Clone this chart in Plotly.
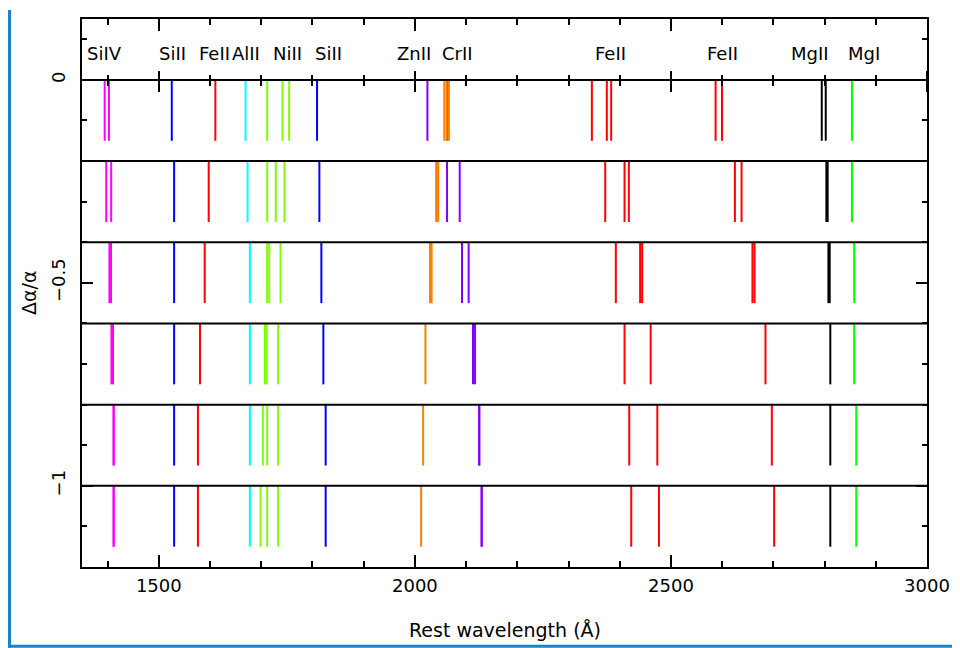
import plotly.graph_objects as go

# ---------------- data ----------------
delta_alpha = [0.0, -0.2, -0.4, -0.6, -0.8, -1.0]   # row positions (Δα/α)
seg_len = 0.15

si_iv = [[1394.3, 1402.6], [1397.3, 1407.0], [1403.6, 1406.6],
         [1407.5, 1410.5], [1411.8, 1411.8], [1411.8, 1411.8]]
si_ii = [[1525.3, 1809.0], [1529.9, 1813.5], [1529.9, 1817.4],
         [1529.9, 1821.3], [1529.9, 1825.8], [1529.9, 1825.8]]
fe_ii = [[1610.4, 2345.6, 2374.8, 2383.3, 2587.2, 2599.7],
         [1597.4, 2371.7, 2409.4, 2417.8, 2624.9, 2637.9],
         [1589.6, 2392.4, 2439.8, 2443.8, 2659.2, 2663.2],
         [1580.4, 2409.4, 2460.4, 2684.6],
         [1576.4, 2418.6, 2473.4, 2697.0],
         [1576.4, 2422.5, 2476.6, 2701.6]]
al_ii = [[1669.4], [1673.3], [1677.8], [1677.8], [1677.8], [1677.8]]
ni_ii = [[1711.7, 1741.5, 1754.5], [1711.7, 1728.3, 1745.3],
         [1711.6, 1715.6, 1737.6], [1707.3, 1710.7, 1733.0],
         [1703.2, 1711.7, 1733.0], [1698.6, 1711.7, 1733.0]]
zn_ii = [[2024.5, 2062.7], [2062.8, 2087.5], [2092.0, 2105.0],
         [2113.5, 2117.5], [2125.7, 2125.7], [2130.4, 2130.4]]
cr_ii = [[2057.5, 2062.0, 2066.5], [2041.5, 2043.6, 2045.7],
         [2029.5, 2031.1, 2032.7], [2020.6], [2016.1], [2012.2]]
mg_ii = [[2794.5, 2802.3], [2803.5, 2806.0], [2807.5, 2810.0],
         [2811.2], [2811.2], [2811.2]]
mg_i = [[2853.4], [2853.4], [2857.9], [2857.9], [2861.9], [2861.9]]

label_text = ["SiIV", "SiII", "FeII", "AlII", "NiII", "SiII", "ZnII", "CrII",
              "FeII", "FeII", "MgII", "MgI"]
label_wave = [1393.5, 1526.7, 1607.8, 1670.8, 1751.8, 1831.7, 1998.6, 2082.3,
              2381.9, 2599.8, 2771.7, 2877.3]
label_y = 0.065

x_range = [1350, 3000]
y_range = [-1.2, 0.15]

species = [
    (si_iv, "#FF00FF"),
    (si_ii, "#0000FF"),
    (fe_ii, "#FF0000"),
    (al_ii, "#00FFFF"),
    (ni_ii, "#80FF00"),
    (zn_ii, "#8000FF"),
    (cr_ii, "#FF8000"),
    (mg_ii, "#000000"),
    (mg_i, "#00FF00"),
]

FONT = "DejaVu Sans"

# figure geometry (page has an 8px body margin)
W, H = 952, 640
ML, MR, MT, MB = 74, 33, 9, 81
PW, PH = W - ML - MR, H - MT - MB

fig = go.Figure()

for waves, color in species:
    xs, ys = [], []
    for row_y, row in zip(delta_alpha, waves):
        for w in row:
            xs += [w, w, None]
            ys += [row_y, row_y - seg_len, None]
    fig.add_trace(go.Scatter(x=xs, y=ys, mode="lines",
                             line=dict(color=color, width=2),
                             hoverinfo="skip", showlegend=False))

# dummy traces so the overlay axes (ticks along the zero row) are drawn
for ax in ["x2", "x3"]:
    fig.add_trace(go.Scatter(x=[x_range[0]], y=[None], xaxis=ax, yaxis="y",
                             mode="lines", hoverinfo="skip", showlegend=False))

# row lines
shapes = []
for row_y in delta_alpha:
    shapes.append(dict(type="line", xref="x domain", yref="y", x0=0, x1=1,
                       y0=row_y, y1=row_y, line=dict(color="black", width=2)))
# page decoration strips (blue)
shapes.append(dict(type="rect", xref="paper", yref="paper",
                   x0=-ML / PW, x1=(-ML + 3) / PW, y0=-MB / PH, y1=1 + MT / PH,
                   fillcolor="#1487C8", line=dict(width=0)))
shapes.append(dict(type="rect", xref="paper", yref="paper",
                   x0=-ML / PW, x1=1 + MR / PW, y0=-MB / PH, y1=(-MB + 3) / PH,
                   fillcolor="#1487C8", line=dict(width=0)))

annotations = []
for t, w in zip(label_text, label_wave):
    annotations.append(dict(x=w, y=label_y, xref="x", yref="y", text=t,
                            showarrow=False, xanchor="center", yanchor="middle",
                            font=dict(family=FONT, size=18, color="black")))
annotations.append(dict(x=0.5, y=-63 / PH, xref="paper", yref="paper",
                        text="Rest wavelength (Å)", showarrow=False,
                        xanchor="center", yanchor="middle",
                        font=dict(family=FONT, size=19, color="black")))
annotations.append(dict(x=-53 / PW, y=0.5, xref="paper", yref="paper",
                        text="Δα/α", textangle=-90, showarrow=False,
                        xanchor="center", yanchor="middle",
                        font=dict(family=FONT, size=19, color="black")))

tickfont = dict(family=FONT, size=18, color="black")
zero_pos = (0 - y_range[0]) / (y_range[1] - y_range[0])

fig.update_layout(
    width=W, height=H,
    margin=dict(l=ML, r=MR, t=MT, b=MB),
    paper_bgcolor="white", plot_bgcolor="white",
    showlegend=False,
    shapes=shapes,
    annotations=annotations,
    xaxis=dict(range=x_range, tick0=0, dtick=500, ticks="inside", ticklen=12,
               tickwidth=2, tickcolor="black", showline=True, linewidth=2,
               linecolor="black", mirror="ticks", showgrid=False, zeroline=False,
               tickfont=tickfont, ticklabelstandoff=1,
               minor=dict(tick0=0, dtick=100, ticks="inside", ticklen=6,
                          tickwidth=2, tickcolor="black", showgrid=False)),
    xaxis2=dict(range=x_range, overlaying="x", anchor="free", position=zero_pos,
                side="bottom", tick0=0, dtick=500, ticks="outside", ticklen=11,
                tickwidth=2, tickcolor="black", showline=False, showgrid=False,
                zeroline=False, showticklabels=False,
                minor=dict(tick0=0, dtick=100, ticks="outside", ticklen=5,
                           tickwidth=2, tickcolor="black", showgrid=False)),
    xaxis3=dict(range=x_range, overlaying="x", anchor="free", position=zero_pos,
                side="top", tick0=0, dtick=500, ticks="outside", ticklen=9,
                tickwidth=2, tickcolor="black", showline=False, showgrid=False,
                zeroline=False, showticklabels=False,
                minor=dict(tick0=0, dtick=100, ticks="outside", ticklen=5,
                           tickwidth=2, tickcolor="black", showgrid=False)),
    yaxis=dict(range=y_range, tick0=0, dtick=0.5, ticks="inside", ticklen=11,
               tickwidth=2, tickcolor="black", showline=True, linewidth=2,
               linecolor="black", mirror="ticks", showgrid=False, zeroline=False,
               tickangle=-90, tickfont=tickfont, ticklabelstandoff=8,
               minor=dict(tick0=0, dtick=0.1, ticks="inside", ticklen=5,
                          tickwidth=2, tickcolor="black", showgrid=False)),
)

fig.write_html("out.html")
